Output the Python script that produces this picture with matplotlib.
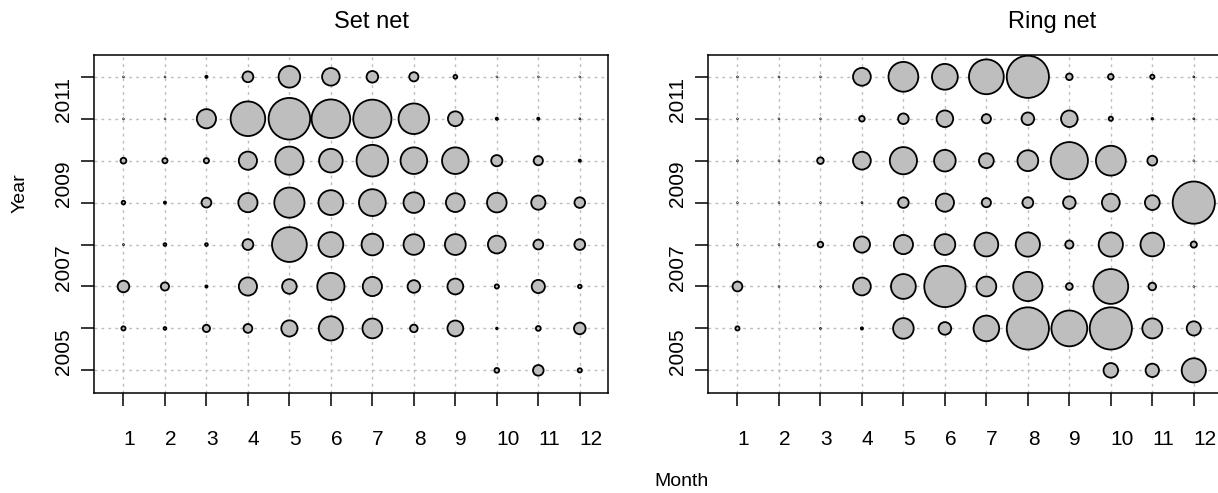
import matplotlib.pyplot as plt
import numpy as np

plt.rcParams['font.family'] = ['Liberation Sans', 'DejaVu Sans']

months = list(range(1, 13))
years = [2011, 2010, 2009, 2008, 2007, 2006, 2005, 2004]
year_labels = ['2011', '', '2009', '', '2007', '', '2005', '']

# bubble size (radius) per year row, months 1..12 ; 0 = no record
set_net = [
    [1, 1, 2, 6.3, 11.7, 9.7, 6.7, 5.5, 2.8, 1, 1, 1],
    [1, 1, 10.5, 18.2, 21.7, 20.2, 20, 16.2, 8.3, 2, 2, 1.3],
    [3.8, 3.5, 3.5, 10, 15, 12.7, 16.7, 14.2, 14.2, 6.5, 5.5, 2],
    [2.7, 2, 5.8, 10.5, 16, 13.3, 14.3, 11.2, 10.3, 10.7, 8, 6.2],
    [1.3, 2.3, 2.3, 6.3, 18.3, 13.3, 11.7, 11.2, 11.3, 9.8, 5.8, 6.3],
    [6.7, 5, 2, 10, 8.2, 14.5, 10.5, 7.2, 8.8, 3, 7.5, 2.7],
    [3, 2.3, 4.5, 5.3, 9, 13, 10.8, 4.7, 8.8, 1.7, 3.3, 6.7],
    [0, 0, 0, 0, 0, 0, 0, 0, 0, 3.3, 6.2, 3],
]

ring_net = [
    [1, 1, 1, 9.8, 15.8, 13.8, 18.3, 22, 4.2, 3.7, 3, 1.3],
    [1, 1, 1, 3.7, 6.2, 9.2, 5.5, 7.2, 9.2, 3, 1.7, 1.3],
    [1, 1, 4.2, 9.8, 14.5, 11.7, 8.3, 11.3, 19.5, 15.8, 5.8, 1],
    [1, 1, 1, 1.3, 6.2, 10, 5.5, 6.3, 7.2, 9.8, 8.3, 22],
    [1, 0.8, 3.7, 9, 10.5, 11.3, 12.8, 13, 5, 13, 12.7, 4],
    [5.8, 0.8, 1, 9.8, 13.3, 21.5, 10.8, 15.5, 4.3, 18.3, 4.7, 1],
    [3, 0, 1.3, 2, 11.2, 7.2, 13.7, 22, 18.8, 22, 10.9, 8],
    [0, 0, 0, 0, 0, 0, 0, 0, 0, 8.2, 7.6, 13],
]

W, H = 1218, 493
fig = plt.figure(figsize=(W / 100, H / 100), dpi=100)

edge_lw = 1.3


def bubble_panel(ax, data, title, title_x):
    grid = np.array(data, dtype=float)
    xx, yy = np.meshgrid(months, years)
    keep = grid > 0
    # radius in pixels -> marker diameter in points
    ms = np.maximum(2 * grid[keep] * 0.72 - edge_lw, 0.4)
    for m in months:
        ax.axvline(m, color='#bdbdbd', lw=1, ls=(0, (2, 3)), zorder=0)
    for y in years:
        ax.axhline(y, color='#bdbdbd', lw=1, ls=(0, (2, 3)), zorder=0)
    ax.scatter(xx[keep], yy[keep], s=ms ** 2, c='#bebebe', edgecolors='black',
               linewidths=edge_lw, zorder=2)
    ax.set_xlim(0.29, 12.68)
    ax.set_ylim(2003.46, 2011.52)
    ax.set_xticks(months)
    ax.set_xticklabels([str(m) for m in months], fontsize=15)
    ax.set_yticks(years)
    ax.set_yticklabels(year_labels, fontsize=15)
    for lab in ax.get_xticklabels():
        lab.set_ha('left')
    for lab in ax.get_yticklabels():
        lab.set_rotation(90)
        lab.set_va('top')
    ax.tick_params(axis='both', length=9.4, width=1.1, direction='out')
    ax.tick_params(axis='x', pad=17)
    ax.tick_params(axis='y', pad=6)
    for sp in ax.spines.values():
        sp.set_linewidth(1.1)
    fig.text(title_x / W, 1 - 22 / H, title, ha='center', va='center', fontsize=17)


ax1 = fig.add_axes([94 / W, (H - 393) / H, 514 / W, 338 / H])
ax2 = fig.add_axes([708 / W, (H - 393) / H, 514 / W, 338 / H])

bubble_panel(ax1, set_net, 'Set net', 371)
bubble_panel(ax2, ring_net, 'Ring net', 1052)

fig.text(20 / W, 1 - 193 / H, 'Year', rotation=90, ha='center', va='center', fontsize=14)
fig.text(681 / W, 1 - 482 / H, 'Month', ha='center', va='center', fontsize=14)

fig.savefig('out.png', dpi=100)
